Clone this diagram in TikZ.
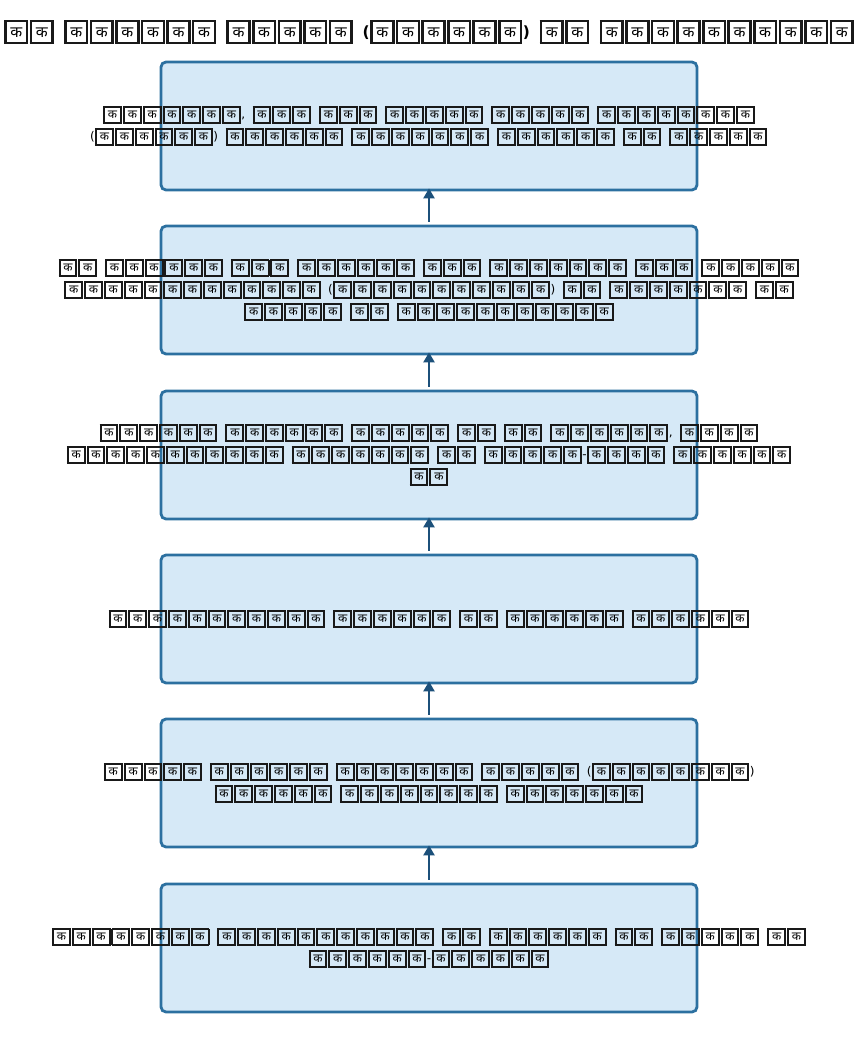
\documentclass[tikz,border=0pt]{standalone}
\usepackage{fontspec}
\usepackage{graphicx}
\setmainfont{DejaVu Sans}
\newfontfamily\deva[Script=Devanagari]{Noto Sans}
\usetikzlibrary{arrows.meta}
\definecolor{boxfill}{RGB}{214,233,247}
\definecolor{boxline}{RGB}{44,112,160}
\definecolor{arrowc}{RGB}{28,80,122}
\newcommand\K{\kern0.5pt{\color{black!90}\fboxsep=0pt\fboxrule=2pt\fbox{\makebox[14.8pt]{\rule[-3.5pt]{0pt}{14.8pt}{\color{black}\deva\fontsize{12}{12}\selectfont क}}}}\kern0.5pt}
\newcommand\W[1]{\foreach \i in {1,...,#1}{\K}}
\newcommand\Ksp{\hspace*{7pt}}
\tikzset{
  stepbox/.style={draw=boxline, fill=boxfill, line width=2.8pt, rounded corners=5pt,
    minimum width=536pt, minimum height=128pt, inner sep=0pt},
  txt/.style={align=center, inner sep=0pt, font=\fontsize{12}{22}\selectfont},
  arr/.style={draw=arrowc, line width=2.8pt, -{Triangle[length=10pt,width=11pt]}, shorten <=3pt, shorten >=-3pt}
}
\begin{document}
\begin{tikzpicture}[x=1pt,y=-1pt]
\useasboundingbox (0,0) rectangle (858,1053);
\node[font=\fontsize{12}{22}\selectfont, inner sep=0pt] (title) at (429,32)
  {\scalebox{1.29}{\bfseries\W{2}\Ksp\W{6}\Ksp\W{5}\Ksp(\W{6})\Ksp\W{2}\Ksp\W{10}}};
\node[stepbox] (b1) at (429,126) {};
\node[stepbox] (b2) at (429,290) {};
\node[stepbox] (b3) at (429,455) {};
\node[stepbox] (b4) at (429,619) {};
\node[stepbox] (b5) at (429,783) {};
\node[stepbox] (b6) at (429,948) {};
\node[txt] (t1) at (b1.center) {\W{7},\Ksp\W{3}\Ksp\W{3}\Ksp\W{5}\Ksp\W{5}\Ksp\W{8}\\(\W{6})\Ksp\W{6}\Ksp\W{7}\Ksp\W{6}\Ksp\W{2}\Ksp\W{5}};
\node[txt] (t2) at (b2.center) {\W{2}\Ksp\W{6}\Ksp\W{3}\Ksp\W{6}\Ksp\W{3}\Ksp\W{7}\Ksp\W{3}\Ksp\W{5}\\\W{13}\Ksp(\W{11})\Ksp\W{2}\Ksp\W{7}\Ksp\W{2}\\\W{5}\Ksp\W{2}\Ksp\W{11}};
\node[txt] (t3) at (b3.center) {\W{6}\Ksp\W{6}\Ksp\W{5}\Ksp\W{2}\Ksp\W{2}\Ksp\W{6},\Ksp\W{4}\\\W{11}\Ksp\W{7}\Ksp\W{2}\Ksp\W{5}-\W{4}\Ksp\W{6}\\\W{2}};
\node[txt] (t4) at (b4.center) {\W{11}\Ksp\W{6}\Ksp\W{2}\Ksp\W{6}\Ksp\W{6}};
\node[txt] (t5) at (b5.center) {\W{5}\Ksp\W{6}\Ksp\W{7}\Ksp\W{5}\Ksp(\W{8})\\\W{6}\Ksp\W{8}\Ksp\W{7}};
\node[txt] (t6) at (b6.center) {\W{8}\Ksp\W{11}\Ksp\W{2}\Ksp\W{6}\Ksp\W{2}\Ksp\W{5}\Ksp\W{2}\\\W{6}-\W{6}};
\draw[arr] (b2.north) -- (b1.south);
\draw[arr] (b3.north) -- (b2.south);
\draw[arr] (b4.north) -- (b3.south);
\draw[arr] (b5.north) -- (b4.south);
\draw[arr] (b6.north) -- (b5.south);
\end{tikzpicture}
\end{document}
